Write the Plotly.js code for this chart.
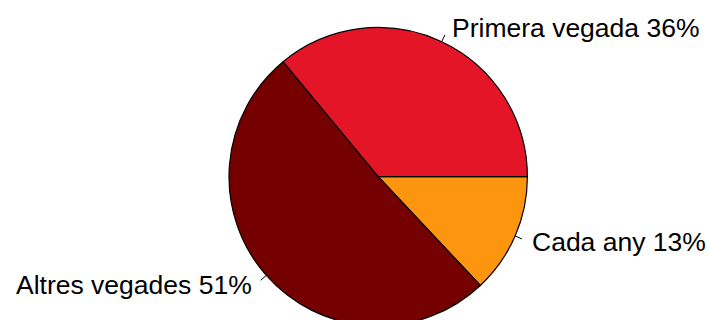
<!DOCTYPE html>
<html>
<head>
<meta charset="utf-8">
<script src="https://cdn.plot.ly/plotly-3.0.1.min.js"></script>
<style>
  html, body { margin: 0; padding: 0; overflow: hidden; background: #fff; }
  #wrap { width: 709px; height: 320px; overflow: hidden; }
  #chart { width: 709px; height: 340px; }
</style>
</head>
<body>
<div id="wrap"><div id="chart"></div></div>
<script>
// Data (counterclockwise order starting at 3 o'clock, as in the reference)
const labels = ["Primera vegada", "Altres vegades", "Cada any"];
const values = [36, 51, 13];
const colors = ["#E31526", "#740000", "#FE950E"];

// Layout geometry (pixels)
const W = 709, H = 340;
const cx = 378.2, cy = 176.7, r = 149.2;

const total = values.reduce((a, b) => a + b, 0);

const shapes = [];
const annotations = [];
let start = 0; // degrees, counterclockwise from 3 o'clock
values.forEach((v, i) => {
  const ang = v / total * 360;
  const mid = (start + ang / 2) * Math.PI / 180;
  start += ang;
  const c = Math.cos(mid), s = Math.sin(mid);
  const px = k => (cx + k * r * c) / W;
  const py = k => 1 - (cy - k * r * s) / H;
  shapes.push({
    type: "line", xref: "paper", yref: "paper",
    x0: px(1.0), y0: py(1.0), x1: px(1.05), y1: py(1.05),
    line: { color: "#000", width: 1 }
  });
  annotations.push({
    xref: "paper", yref: "paper",
    x: px(1.1) + (c < 0 ? -2 : 2.5) / W, y: py(1.1),
    xanchor: c < 0 ? "right" : "left", yanchor: "middle",
    text: labels[i] + " " + Math.round(v / total * 100) + "%",
    showarrow: false,
    font: { family: "Liberation Sans, Arial, sans-serif", size: 26.5, color: "#000" },
    borderpad: 0
  });
});

// Plotly lays slices clockwise from `rotation`; reverse to get the counterclockwise order
const trace = {
  type: "pie",
  labels: labels.slice().reverse(),
  values: values.slice().reverse(),
  sort: false,
  direction: "clockwise",
  rotation: 90,
  textinfo: "none",
  hoverinfo: "none",
  marker: { colors: colors.slice().reverse(), line: { color: "#000", width: 1.2 } },
  domain: {
    x: [(cx - r) / W, (cx + r) / W],
    y: [1 - (cy + r) / H, 1 - (cy - r) / H]
  },
  showlegend: false
};

Plotly.newPlot("chart", [trace], {
  width: W, height: H,
  margin: { l: 0, r: 0, t: 0, b: 0 },
  paper_bgcolor: "#fff",
  plot_bgcolor: "#fff",
  showlegend: false,
  shapes: shapes,
  annotations: annotations
}, { staticPlot: true, displayModeBar: false });
</script>
</body>
</html>
